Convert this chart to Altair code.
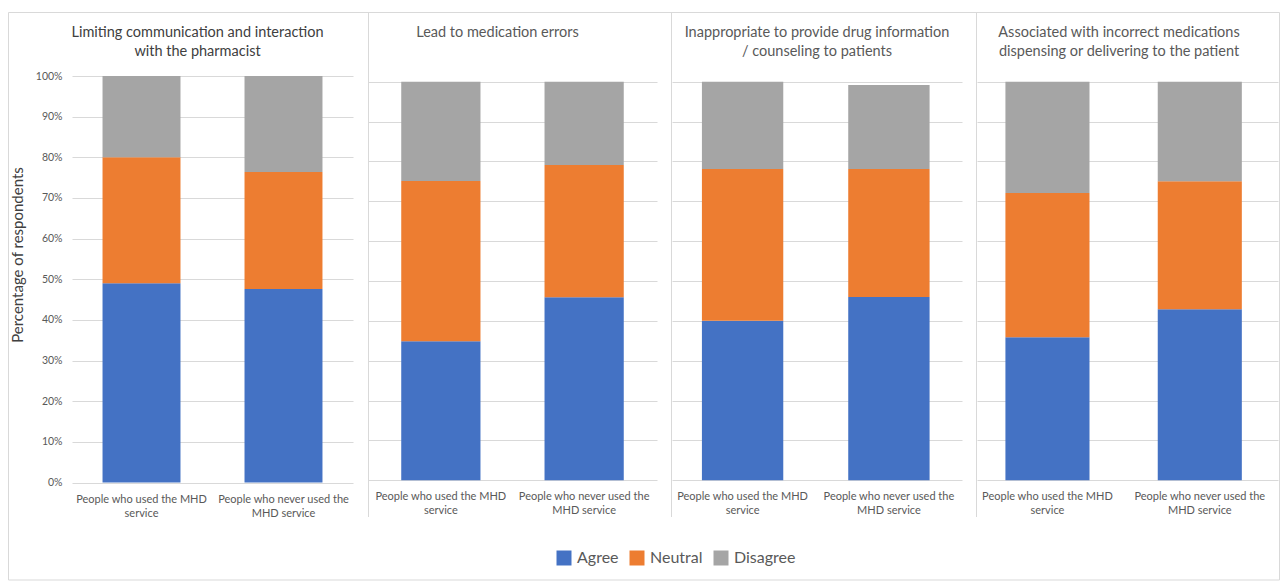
import altair as alt
import pandas as pd

# ---------------- data ----------------
panel_titles = [
    ["Limiting communication and interaction", "with the pharmacist"],
    ["Lead to medication errors"],
    ["Inappropriate to provide drug information", "/ counseling to patients"],
    ["Associated with incorrect medications", "dispensing or delivering to the patient"],
]
groups = ["People who used the MHD service", "People who never used the MHD service"]
responses = ["Agree", "Neutral", "Disagree"]

agree_used = [49.0, 34.9, 40.0, 35.9]
neutral_used = [31.0, 40.2, 38.1, 36.2]
disagree_used = [20.0, 24.9, 21.9, 27.9]
agree_never = [47.6, 45.9, 46.0, 42.9]
neutral_never = [28.8, 33.2, 32.1, 32.1]
disagree_never = [23.6, 20.9, 21.1, 25.0]

y_ticks = [0, 10, 20, 30, 40, 50, 60, 70, 80, 90, 100]
colors = ["#4472C4", "#ED7D31", "#A5A5A5"]

# ---------------- styles / layout ----------------
FONT = "Lato"
GRID = "#d9d9d9"
TXT = "#595959"
H = 406.5
widths = [281, 289, 290, 301]
pad_inner = [0.451, 0.447, 0.444, 0.448]
pad_outer = [0.215, 0.232, 0.213, 0.212]
band_align = [0.5, 0.5, 0.48, 0.44]
y_domains = [[0, 100], [-0.55, 101.43], [-0.55, 101.43], [-0.55, 101.43]]
title_x = [125.5, 129.5, 145, 142]
title_y = [-43, -43, -43, -43]
title_color = ["#404040", TXT, TXT, TXT]
xlabel_pad = [11, 8, 8, 8]
sep_x = [296.5, 303.5, 304.5]

label_expr = ("datum.label == 'People who used the MHD service' ? "
              "['People who used the MHD', 'service'] : "
              "['People who never used the', 'MHD service']")

deco = pd.DataFrame({"k": [0]})


def panel(i):
    rows = []
    vals = {
        groups[0]: [agree_used[i], neutral_used[i], disagree_used[i]],
        groups[1]: [agree_never[i], neutral_never[i], disagree_never[i]],
    }
    for g in groups:
        for j, r in enumerate(responses):
            rows.append({"group": g, "response": r, "value": vals[g][j], "ord": j})
    df = pd.DataFrame(rows)

    if i == 0:
        yaxis = alt.Axis(values=y_ticks, labelExpr="datum.value + '%'", grid=True,
                         gridColor=GRID, domain=False, ticks=False, labelPadding=10,
                         labelFontSize=10.5, labelColor=TXT, labelFont=FONT,
                         title="Percentage of respondents", titleFont=FONT,
                         titleFontSize=15, titleFontWeight="normal",
                         titleColor="#404040", titlePadding=10, titleY=178.5)
    else:
        yaxis = alt.Axis(values=y_ticks, grid=True, gridColor=GRID, domain=False,
                         ticks=False, labels=False, title=None)

    bars = alt.Chart(df).mark_bar().encode(
        x=alt.X("group:N", sort=groups,
                scale=alt.Scale(paddingInner=pad_inner[i], paddingOuter=pad_outer[i],
                                align=band_align[i]),
                axis=alt.Axis(title=None, labelAngle=0, ticks=False, domain=False,
                              labelExpr=label_expr, labelFont=FONT, labelFontSize=11,
                              labelColor=TXT, labelLineHeight=14,
                              labelPadding=xlabel_pad[i], labelBaseline="top")),
        y=alt.Y("value:Q", stack="zero",
                scale=alt.Scale(domain=y_domains[i], nice=False, zero=False),
                axis=yaxis),
        color=alt.Color("response:N", sort=responses,
                        scale=alt.Scale(domain=responses, range=colors),
                        legend=alt.Legend(orient="none", legendX=484, legendY=474,
                                          direction="horizontal", title=None,
                                          symbolType="square", symbolSize=225,
                                          symbolStrokeWidth=0, labelFont=FONT,
                                          labelFontSize=16, labelColor=TXT,
                                          columnPadding=10, labelOffset=5,
                                          padding=0)),
        order=alt.Order("ord:Q", sort="ascending"),
    )

    title = alt.Chart(deco).mark_text(
        font=FONT, fontSize=14.5, color=title_color[i], align="center",
        baseline="middle", lineHeight=19,
    ).encode(x=alt.value(title_x[i]), y=alt.value(title_y[i]),
             text=alt.value(panel_titles[i]))

    layers = [bars, title]
    if i == 0:
        frame = alt.Chart(deco).mark_rect(fillOpacity=0, stroke=GRID, strokeWidth=1).encode(
            x=alt.value(-63.5), x2=alt.value(1207.5), y=alt.value(-63.5), y2=alt.value(504))
        layers.insert(0, frame)
    if i < 3:
        sep = alt.Chart(deco).mark_rule(color=GRID, strokeWidth=1).encode(
            x=alt.value(sep_x[i]), y=alt.value(-63.5), y2=alt.value(441))
        layers.insert(0, sep)

    return alt.layer(*layers).properties(width=widths[i], height=H)


chart = alt.hconcat(*[panel(i) for i in range(4)], spacing=15, bounds="flush").properties(
    padding={"left": 8, "top": 12, "right": 2, "bottom": 0},
    background="white",
).configure_view(stroke=None)

chart.save("out.html", embed_options={"renderer": "svg", "actions": False})
